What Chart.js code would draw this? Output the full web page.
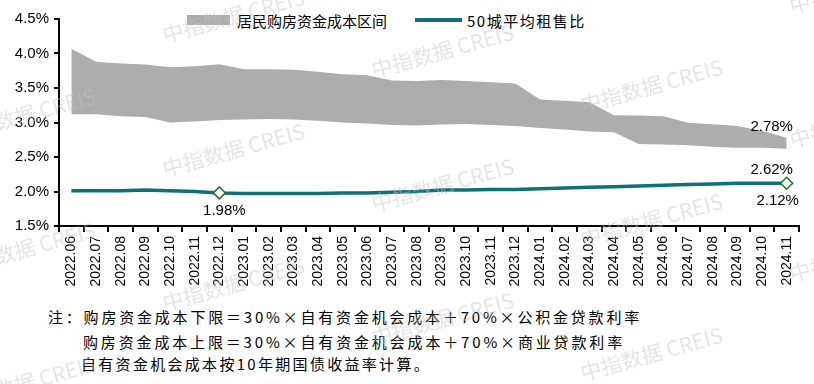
<!DOCTYPE html>
<html><head><meta charset="utf-8">
<script src="https://cdn.jsdelivr.net/npm/chart.js@4.4.0/dist/chart.umd.min.js"></script>
<style>
html,body{margin:0;padding:0;background:#fff;}
#wrap{position:relative;width:814px;height:384px;overflow:hidden;background:#fff;}
canvas{position:absolute;left:0;top:0;z-index:2;}
.txt{position:absolute;z-index:1;white-space:nowrap;font-family:"Noto Sans CJK SC","Noto Sans",sans-serif;color:#000;}
</style></head><body>
<div id="wrap">
  <div class="txt" style="left:187px;top:15px;width:43px;height:10px;background:#ADADAD"></div>
  <div class="txt" style="left:237px;top:11px;font-size:15px;line-height:20px">居民购房资金成本区间</div>
  <div class="txt" style="left:415px;top:18px;width:47px;height:4px;background:#0E7177"></div>
  <div class="txt" style="left:467px;top:11px;font-size:15px;line-height:20px;letter-spacing:1.5px">50城平均租售比</div>
  <div class="txt note" data-w="594" style="left:48px;top:307px;font-size:15px;line-height:20px">注：购房资金成本下限＝30%×自有资金机会成本＋70%×公积金贷款利率</div>
  <div class="txt note" data-w="542" style="left:83px;top:332px;font-size:15px;line-height:20px">购房资金成本上限＝30%×自有资金机会成本＋70%×商业贷款利率</div>
  <div class="txt note" data-w="350" style="left:81px;top:354px;font-size:15px;line-height:20px">自有资金机会成本按10年期国债收益率计算。</div>
  <canvas id="c" width="814" height="384"></canvas>
</div>
<script>
// ---- data ----
const categories = ['2022.06','2022.07','2022.08','2022.09','2022.10','2022.11','2022.12',
  '2023.01','2023.02','2023.03','2023.04','2023.05','2023.06','2023.07','2023.08','2023.09',
  '2023.10','2023.11','2023.12','2024.01','2024.02','2024.03','2024.04','2024.05','2024.06',
  '2024.07','2024.08','2024.09','2024.10','2024.11'];
const costUpper = [4.07,3.88,3.855,3.84,3.80,3.815,3.845,3.77,3.77,3.765,3.735,3.70,3.685,3.61,3.60,
  3.615,3.60,3.585,3.565,3.335,3.315,3.295,3.105,3.10,3.09,2.995,2.975,2.95,2.88,2.78];
const costLower = [3.12,3.12,3.09,3.08,3.00,3.015,3.035,3.045,3.05,3.045,3.025,3.00,2.985,2.965,2.955,
  2.97,2.98,2.965,2.95,2.92,2.90,2.87,2.86,2.69,2.68,2.67,2.65,2.635,2.635,2.62];
const rentRatio = [2.01,2.01,2.01,2.02,2.01,2.00,1.98,1.97,1.97,1.97,1.97,1.98,1.98,1.99,2.00,
  2.02,2.02,2.03,2.03,2.04,2.05,2.06,2.07,2.08,2.09,2.10,2.11,2.12,2.12,2.12];
const yTicks = [1.5,2.0,2.5,3.0,3.5,4.0,4.5];
const markedIdx = [6, 29];
const seriesNames = ['50城平均租售比','购房资金成本下限','购房资金成本上限'];

// label placement (offsets only)
const labelSpecs = [
  {ds:0, idx:6, dx:5, dy:18},
  {ds:0, idx:29, dx:-9, dy:18},
  {ds:2, idx:29, dx:-15, dy:-11},
  {ds:1, idx:29, dx:-15, dy:21}
];

// fit note lines by letter spacing
document.querySelectorAll('.note').forEach(el=>{
  const w = +el.dataset.w; const n = el.textContent.length;
  const nat = el.getBoundingClientRect().width;
  el.style.letterSpacing = ((w - nat)/n) + 'px';
});

const TEAL = '#0E7177';
const labelPlugin = {
  id:'valLabels',
  afterDatasetsDraw(chart){
    const ctx = chart.ctx;
    ctx.save();
    ctx.font = '15px "Liberation Sans", Arial, sans-serif';
    ctx.fillStyle = '#000';
    ctx.textAlign = 'center';
    ctx.textBaseline = 'middle';
    labelSpecs.forEach(s=>{
      const el = chart.getDatasetMeta(s.ds).data[s.idx];
      const v = chart.data.datasets[s.ds].data[s.idx];
      ctx.fillText(v.toFixed(2)+'%', el.x + s.dx, el.y + s.dy);
    });
    ctx.restore();
  }
};
const watermarkPlugin = {
  id:'wm',
  afterDraw(chart){
    const ctx = chart.ctx;
    ctx.save();
    ctx.font = '21px "Noto Sans CJK SC", sans-serif';
    ctx.fillStyle = 'rgba(195,195,195,0.45)';
    for(let i=-1;i<=4;i++){
      for(let j=-2;j<=3;j++){
        const x = 165 + 209*i;
        const y = 43 + 35*i + 134*j;
        ctx.save();
        ctx.translate(x,y);
        ctx.rotate(-15.4*Math.PI/180);
        ctx.fillText('中指数据 CREIS',0,0);
        ctx.restore();
      }
    }
    ctx.restore();
  }
};

new Chart(document.getElementById('c'), {
  type:'line',
  data:{
    labels: categories,
    datasets:[
      {label:seriesNames[0], data:rentRatio, borderColor:TEAL, borderWidth:3.5, fill:false, order:0,
       pointStyle:'rectRot',
       pointRadius:(c)=>markedIdx.includes(c.dataIndex)?6:0,
       pointBackgroundColor:'#fff', pointBorderColor:'#267326', pointBorderWidth:1.5, tension:0},
      {label:seriesNames[1], data:costLower, borderWidth:0, borderColor:'rgba(0,0,0,0)', pointRadius:0, fill:false, order:2},
      {label:seriesNames[2], data:costUpper, borderWidth:0, borderColor:'rgba(0,0,0,0)', pointRadius:0, fill:1, backgroundColor:'#ADADAD', order:1}
    ]
  },
  options:{
    responsive:false, animation:false,
    layout:{padding:{left:0, top:19, right:15, bottom:0}},
    plugins:{legend:{display:false}, tooltip:{enabled:false}},
    scales:{
      x:{
        offset:true,
        grid:{offset:true, drawOnChartArea:false, drawTicks:true, tickLength:6, color:'#000', lineWidth:2},
        border:{display:true, color:'#000', width:2},
        ticks:{autoSkip:false, minRotation:90, maxRotation:90, padding:4, color:'#000',
          font:{family:'"Liberation Sans", Arial, sans-serif', size:14}},
        afterFit:(s)=>{ s.height = 158; }
      },
      y:{
        min:1.5, max:4.5,
        afterBuildTicks:(s)=>{ s.ticks = yTicks.map(v=>({value:v})); },
        grid:{drawOnChartArea:false, drawTicks:true, tickLength:5, color:'#000', lineWidth:2},
        border:{display:true, color:'#000', width:2},
        ticks:{padding:5, color:'#000', callback:(v)=>v.toFixed(1)+'%',
          font:{family:'"Liberation Sans", Arial, sans-serif', size:15}},
        afterFit:(s)=>{ s.width = 59; }
      }
    }
  },
  plugins:[labelPlugin, watermarkPlugin]
});
</script>
</body></html>
